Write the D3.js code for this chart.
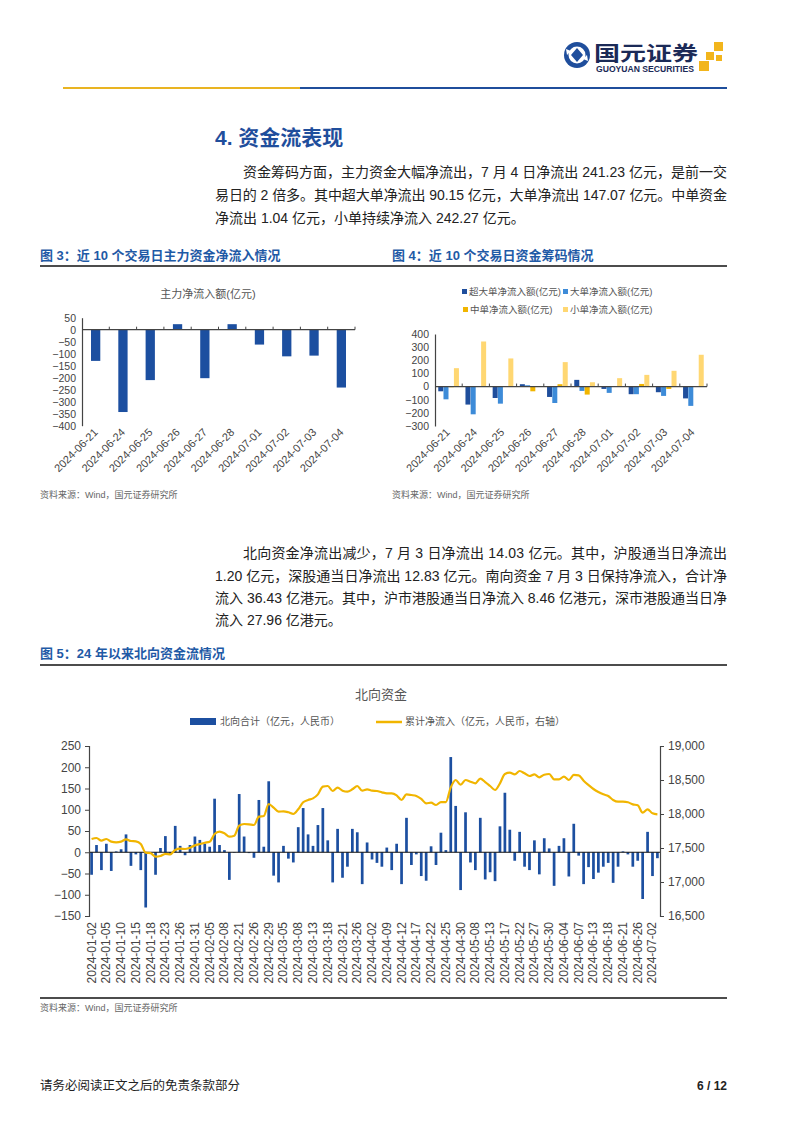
<!DOCTYPE html>
<html>
<head>
<meta charset="utf-8">
<title>资金流表现</title>
<script src="https://d3js.org/d3.v7.min.js"></script>
<style>
  body { margin: 0; background: #fff; }
  svg text { font-family: 'Liberation Sans', Arial, 'Noto Sans CJK SC', sans-serif; }
</style>
</head>
<body>
<svg id="page" width="802" height="1133"></svg>
<script>
// ---- figure 3 / figure 4 : last 10 trading days ----
var days10 = ["2024-06-21","2024-06-24","2024-06-25","2024-06-26","2024-06-27",
              "2024-06-28","2024-07-01","2024-07-02","2024-07-03","2024-07-04"];
var mainFlow   = [-130, -343, -210, 23, -202, 23, -62, -111, -108, -241];
var superLarge = [-36, -137, -87, 18, -79, 51, -18, -58, -43, -90];
var largeOrder = [-97, -211, -130, 10, -125, -33, -48, -58, -71, -147];
var midOrder   = [-5, -2, 3, -36, 18, -61, 2, 20, -18, -1];
var smallOrder = [140, 343, 214, 4, 186, 33, 64, 89, 120, 242];
var orderNames = ["超大单净流入额(亿元)", "大单净流入额(亿元)", "中单净流入额(亿元)", "小单净流入额(亿元)"];
var orderColors = ["#1f4e9c", "#3d8bd8", "#f1b500", "#ffd772"];

// ---- figure 5 : northbound since 2024 ----
var nbDates = [
 "2024-01-02","2024-01-03","2024-01-04","2024-01-05","2024-01-08","2024-01-09","2024-01-10","2024-01-11","2024-01-12","2024-01-15",
 "2024-01-16","2024-01-17","2024-01-18","2024-01-19","2024-01-22","2024-01-23","2024-01-24","2024-01-25","2024-01-26","2024-01-29",
 "2024-01-30","2024-01-31","2024-02-01","2024-02-02","2024-02-05","2024-02-06","2024-02-07","2024-02-08","2024-02-19","2024-02-20",
 "2024-02-21","2024-02-22","2024-02-23","2024-02-26","2024-02-27","2024-02-28","2024-02-29","2024-03-01","2024-03-04","2024-03-05",
 "2024-03-06","2024-03-07","2024-03-08","2024-03-11","2024-03-12","2024-03-13","2024-03-14","2024-03-15","2024-03-18","2024-03-19",
 "2024-03-20","2024-03-21","2024-03-22","2024-03-25","2024-03-26","2024-03-27","2024-03-28","2024-04-02","2024-04-03","2024-04-08",
 "2024-04-09","2024-04-10","2024-04-11","2024-04-12","2024-04-15","2024-04-16","2024-04-17","2024-04-18","2024-04-19","2024-04-22",
 "2024-04-23","2024-04-24","2024-04-25","2024-04-26","2024-04-29","2024-04-30","2024-05-06","2024-05-07","2024-05-08","2024-05-09",
 "2024-05-10","2024-05-13","2024-05-14","2024-05-16","2024-05-17","2024-05-20","2024-05-21","2024-05-22","2024-05-23","2024-05-24",
 "2024-05-27","2024-05-28","2024-05-29","2024-05-30","2024-05-31","2024-06-03","2024-06-04","2024-06-05","2024-06-06","2024-06-07",
 "2024-06-11","2024-06-12","2024-06-13","2024-06-14","2024-06-17","2024-06-18","2024-06-19","2024-06-20","2024-06-21","2024-06-24",
 "2024-06-25","2024-06-26","2024-06-27","2024-06-28","2024-07-02","2024-07-03"];
var nbDaily = [
 -53, 17, -42, 20, -44, 2, 7, 42, -32, -5,
 -42, -130, -3, -53, 10, 38, -6, 62, 15, -7,
 17, 37, 29, 20, 13, 126, 17, 5, -65, -1,
 137, 37, -2, -13, 123, 13, 167, -55, -71, 15,
 -15, -24, 59, 104, 42, 15, 64, 104, 28, -71,
 55, -60, -34, 55, 47, -75, 23, -17, -25, -34,
 11, -42, 20, -75, 81, -30, -5, -56, -67, 14,
 -30, 46, 5, 224, 109, -89, 94, -24, -42, 81,
 -64, -47, -68, 61, 140, 53, -20, 48, -34, -42,
 28, -52, 33, 9, -79, 15, 33, -57, 67, -8,
 -75, -35, -63, -48, -34, -25, -72, -34, 2, -5,
 -34, -20, -110, 48, -56, -14];
var nbCumulative = [
 17632, 17647, 17608, 17632, 17593, 17583, 17593, 17628, 17603, 17598,
 17559, 17431, 17425, 17372, 17382, 17412, 17407, 17471, 17490, 17485,
 17505, 17539, 17559, 17578, 17593, 17706, 17740, 17716, 17667, 17681,
 17828, 17853, 17848, 17838, 17961, 17971, 18147, 18093, 18035, 18039,
 18025, 18000, 18069, 18172, 18206, 18230, 18289, 18402, 18412, 18338,
 18387, 18343, 18328, 18363, 18412, 18343, 18363, 18343, 18338, 18319,
 18304, 18304, 18275, 18206, 18289, 18279, 18265, 18221, 18157, 18167,
 18132, 18176, 18176, 18392, 18500, 18431, 18500, 18475, 18451, 18520,
 18470, 18412, 18353, 18451, 18588, 18608, 18583, 18632, 18598, 18559,
 18583, 18539, 18578, 18588, 18510, 18510, 18549, 18500, 18574, 18569,
 18490, 18426, 18368, 18324, 18289, 18265, 18206, 18181, 18181, 18172,
 18142, 18128, 18020, 18069, 18010, 17995];
var leftTicks = [250, 200, 150, 100, 50, 0, -50, -100, -150];
var rightTicks = [19000, 18500, 18000, 17500, 17000, 16500];

var svg = d3.select("#page");
var TITLE_BLUE = "#1f5aa6";

function text(g, x, y, s, size, opts) {
    opts = opts || {};
    var t = g.append("text")
        .attr("x", x).attr("y", y)
        .attr("font-size", size)
        .attr("fill", opts.fill || "#222")
        .attr("font-weight", opts.weight || "normal")
        .attr("text-anchor", opts.anchor || "start")
        .text(s);
    if (opts.len) t.attr("textLength", opts.len).attr("lengthAdjust", opts.adjust || "spacing");
    return t;
}

// ---------- header ----------
var hdr = svg.append("g");
hdr.append("circle").attr("cx", 577).attr("cy", 55).attr("r", 13).attr("fill", "#1f4e9c");
hdr.append("circle").attr("cx", 577).attr("cy", 55).attr("r", 8.5).attr("fill", "#fff");
hdr.append("path").attr("d", "M577,48 L583,55 L577,62 L571,55 Z").attr("fill", "#1f4e9c");
hdr.append("path").attr("d", "M566,49 L571,51 L567,55 Z M588,61 L583,59 L587,55 Z").attr("fill", "#fff");
text(hdr, 594, 61, "国元证券", 20, {fill: "#1b2a57", weight: "bold", len: 104, adjust: "spacingAndGlyphs"});
text(hdr, 596, 72, "GUOYUAN SECURITIES", 8.5, {fill: "#1b2a57", weight: "bold", len: 98, adjust: "spacingAndGlyphs"});
[[714, 42, 9], [706, 52, 8], [716, 55, 6], [699, 61, 10]].forEach(function (s) {
    hdr.append("rect").attr("x", s[0]).attr("y", s[1]).attr("width", s[2]).attr("height", s[2]).attr("fill", "#f2b51c");
});
hdr.append("line").attr("x1", 63).attr("x2", 300).attr("y1", 88).attr("y2", 88).attr("stroke", "#e9b422").attr("stroke-width", 2);
hdr.append("line").attr("x1", 300).attr("x2", 727).attr("y1", 88).attr("y2", 88).attr("stroke", "#1f4e9c").attr("stroke-width", 2);

// ---------- body text ----------
var body = svg.append("g");
text(body, 215, 145, "4. 资金流表现", 21, {fill: "#1f4e9c", weight: "bold"});
text(body, 243, 177, "资金筹码方面，主力资金大幅净流出，7 月 4 日净流出 241.23 亿元，是前一交", 14, {len: 484});
text(body, 215, 200, "易日的 2 倍多。其中超大单净流出 90.15 亿元，大单净流出 147.07 亿元。中单资金", 14, {len: 512});
text(body, 215, 223, "净流出 1.04 亿元，小单持续净流入 242.27 亿元。", 14);

text(body, 40, 260, "图 3：近 10 个交易日主力资金净流入情况", 13, {fill: TITLE_BLUE, weight: "bold"});
text(body, 392, 260, "图 4：近 10 个交易日资金筹码情况", 13, {fill: TITLE_BLUE, weight: "bold"});
body.append("line").attr("x1", 40).attr("x2", 727).attr("y1", 266).attr("y2", 266).attr("stroke", "#111").attr("stroke-width", 1.5);

text(body, 40, 498, "资料来源：Wind，国元证券研究所", 9, {fill: "#666"});
text(body, 392, 498, "资料来源：Wind，国元证券研究所", 9, {fill: "#666"});

text(body, 243, 558, "北向资金净流出减少，7 月 3 日净流出 14.03 亿元。其中，沪股通当日净流出", 14, {len: 484});
text(body, 215, 581, "1.20 亿元，深股通当日净流出 12.83 亿元。南向资金 7 月 3 日保持净流入，合计净", 14, {len: 512});
text(body, 215, 603, "流入 36.43 亿港元。其中，沪市港股通当日净流入 8.46 亿港元，深市港股通当日净", 14, {len: 512});
text(body, 215, 625, "流入 27.96 亿港元。", 14);

text(body, 40, 658, "图 5：24 年以来北向资金流情况", 13, {fill: TITLE_BLUE, weight: "bold"});
body.append("line").attr("x1", 40).attr("x2", 727).attr("y1", 665).attr("y2", 665).attr("stroke", "#111").attr("stroke-width", 1.5);
body.append("line").attr("x1", 40).attr("x2", 727).attr("y1", 998).attr("y2", 998).attr("stroke", "#111").attr("stroke-width", 1.5);
text(body, 40, 1011, "资料来源：Wind，国元证券研究所", 9, {fill: "#666"});

text(body, 40, 1090, "请务必阅读正文之后的免责条款部分", 12.5, {fill: "#222"});
text(body, 727, 1090, "6 / 12", 12, {fill: "#222", weight: "bold", anchor: "end"});

function styleAxis(g) {
    g.selectAll("path.domain").attr("stroke", "#444").attr("stroke-width", 1.2);
    g.selectAll(".tick line").attr("stroke", "#444");
    g.selectAll(".tick text").attr("fill", "#444").attr("font-size", 10.5)
        .attr("font-family", "'Liberation Sans', Arial, sans-serif");
}

function dateLabels(g, x, ybase, offset) {
    g.selectAll("text.xl").data(days10).enter().append("text")
        .attr("class", "xl")
        .attr("transform", function (d) { return "translate(" + (x(d) + x.bandwidth() / 2 + offset) + "," + ybase + ") rotate(-45)"; })
        .attr("text-anchor", "end")
        .attr("font-size", 11)
        .attr("fill", "#444")
        .text(function (d) { return d; });
}

// ---------- figure 3 ----------
var g3 = svg.append("g");
var x3 = d3.scaleBand().domain(days10).range([82, 355]).paddingInner(0.66).paddingOuter(0.33);
var y3 = d3.scaleLinear().domain([-400, 50]).range([425.7, 317.7]);
text(g3, 208, 298, "主力净流入额(亿元)", 11, {fill: "#555", anchor: "middle"});
g3.selectAll("rect").data(mainFlow).enter().append("rect")
    .attr("x", function (d, i) { return x3(days10[i]); })
    .attr("width", x3.bandwidth())
    .attr("y", function (d) { return y3(Math.max(0, d)); })
    .attr("height", function (d) { return Math.abs(y3(d) - y3(0)); })
    .attr("fill", "#1c4fa0");
g3.append("g").attr("transform", "translate(82,0)")
    .call(d3.axisLeft(y3).tickValues(d3.range(-400, 51, 50)).tickSize(0).tickPadding(6))
    .call(styleAxis);
var step3 = x3.step();
g3.append("line").attr("x1", 82).attr("x2", 355).attr("y1", y3(0)).attr("y2", y3(0)).attr("stroke", "#444").attr("stroke-width", 1.2);
d3.range(1, 11).forEach(function (k) {
    g3.append("line").attr("x1", 82 + k * step3).attr("x2", 82 + k * step3)
        .attr("y1", y3(0)).attr("y2", y3(0) - 3).attr("stroke", "#444");
});
dateLabels(g3, x3, 433, 3);

// ---------- figure 4 ----------
var g4 = svg.append("g");
var series4 = [superLarge, largeOrder, midOrder, smallOrder];
var x4 = d3.scaleBand().domain(days10).range([435, 707]).paddingInner(0.24).paddingOuter(0.12);
var xs4 = d3.scaleBand().domain(d3.range(4)).range([0, x4.bandwidth()]).paddingInner(0.04);
var y4 = d3.scaleLinear().domain([-300, 400]).range([426, 334]);

var legendPos = [[462, 294], [563, 294], [463, 312], [563, 312]];
orderNames.forEach(function (n, k) {
    g4.append("rect").attr("x", legendPos[k][0]).attr("y", legendPos[k][1] - 5)
        .attr("width", 5).attr("height", 5).attr("fill", orderColors[k]);
    text(g4, legendPos[k][0] + 7, legendPos[k][1] + 1, n, 9.5, {fill: "#555"});
});

series4.forEach(function (vals, k) {
    g4.append("g").selectAll("rect").data(vals).enter().append("rect")
        .attr("x", function (d, i) { return x4(days10[i]) + xs4(k); })
        .attr("width", xs4.bandwidth())
        .attr("y", function (d) { return y4(Math.max(0, d)); })
        .attr("height", function (d) { return Math.abs(y4(d) - y4(0)); })
        .attr("fill", orderColors[k]);
});
g4.append("g").attr("transform", "translate(435,0)")
    .call(d3.axisLeft(y4).tickValues(d3.range(-300, 401, 100)).tickSize(0).tickPadding(6))
    .call(styleAxis);
var step4 = x4.step();
g4.append("line").attr("x1", 435).attr("x2", 707).attr("y1", y4(0)).attr("y2", y4(0)).attr("stroke", "#444").attr("stroke-width", 1.2);
d3.range(1, 11).forEach(function (k) {
    g4.append("line").attr("x1", 435 + k * step4).attr("x2", 435 + k * step4)
        .attr("y1", y4(0)).attr("y2", y4(0) - 3).attr("stroke", "#444");
});
dateLabels(g4, x4, 433, 2);

// ---------- figure 5 ----------
var g5 = svg.append("g");
var x5 = d3.scaleBand().domain(d3.range(nbDates.length)).range([89, 660]).paddingInner(0.45).paddingOuter(0.25);
var yL = d3.scaleLinear().domain([-150, 250]).range([916, 746]);
var yR = d3.scaleLinear().domain([16500, 19000]).range([916, 746]);

text(g5, 381, 699, "北向资金", 13, {fill: "#555", anchor: "middle"});
g5.append("rect").attr("x", 190).attr("y", 718).attr("width", 26).attr("height", 7).attr("fill", "#1c4fa0");
text(g5, 220, 725, "北向合计（亿元，人民币）", 10, {fill: "#555"});
g5.append("line").attr("x1", 376).attr("x2", 402).attr("y1", 722).attr("y2", 722).attr("stroke", "#f1b500").attr("stroke-width", 2.5);
text(g5, 405, 725, "累计净流入（亿元，人民币，右轴）", 10, {fill: "#555"});

g5.append("g").selectAll("rect").data(nbDaily).enter().append("rect")
    .attr("x", function (d, i) { return x5(i); })
    .attr("width", x5.bandwidth())
    .attr("y", function (d) { return yL(Math.max(0, d)); })
    .attr("height", function (d) { return Math.abs(yL(d) - yL(0)); })
    .attr("fill", "#1c4fa0");

g5.append("line").attr("x1", 89).attr("x2", 660).attr("y1", yL(0)).attr("y2", yL(0)).attr("stroke", "#111").attr("stroke-width", 1.2);

var line5 = d3.line()
    .x(function (d, i) { return x5(i) + x5.bandwidth() / 2; })
    .y(function (d) { return yR(d); })
    .curve(d3.curveMonotoneX);
g5.append("path").datum(nbCumulative).attr("d", line5)
    .attr("fill", "none").attr("stroke", "#f1b500").attr("stroke-width", 2.2);

g5.append("g").attr("transform", "translate(89,0)")
    .call(d3.axisLeft(yL).tickValues(leftTicks).tickSize(4).tickPadding(4))
    .call(styleAxis);
g5.append("g").attr("transform", "translate(660,0)")
    .call(d3.axisRight(yR).tickValues(rightTicks).tickFormat(d3.format(",")).tickSize(4).tickPadding(4))
    .call(styleAxis);
g5.selectAll(".tick text").attr("font-size", 12);

g5.append("g").selectAll("text").data(nbDates).enter()
    .filter(function (d, i) { return i % 3 === 0; })
    .append("text")
    .attr("transform", function (d) {
        var i = nbDates.indexOf(d);
        return "translate(" + (x5(i) + x5.bandwidth() / 2 + 4) + ",922) rotate(-90)";
    })
    .attr("text-anchor", "end")
    .attr("font-size", 12)
    .attr("fill", "#444")
    .text(function (d) { return d; });
</script>
</body>
</html>
